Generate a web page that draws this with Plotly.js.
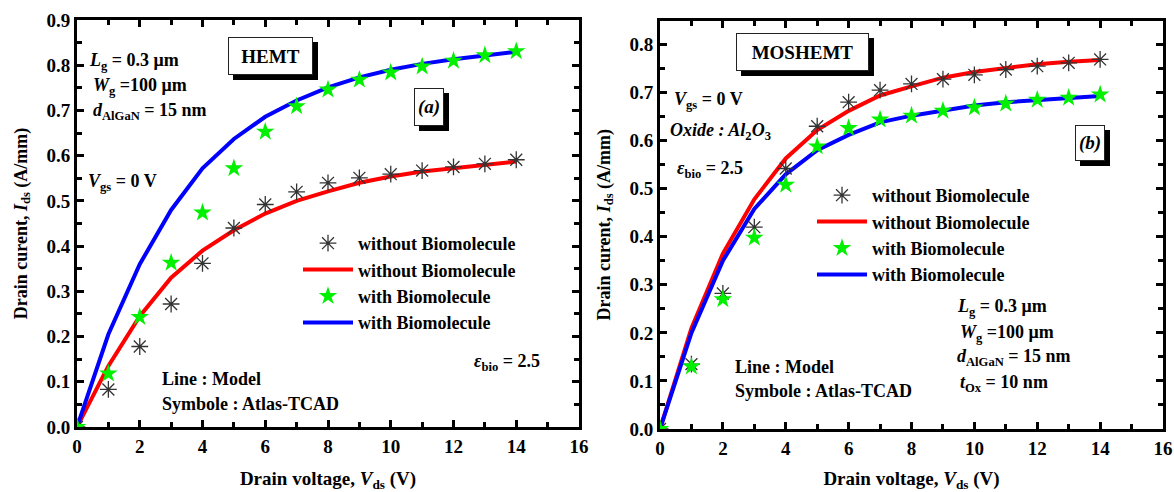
<!DOCTYPE html>
<html>
<head>
<meta charset="utf-8">
<script src="https://cdn.plot.ly/plotly-3.0.1.min.js"></script>
<style>html,body{margin:0;padding:0;background:#fff;}#chart{width:1174px;height:492px;}</style>
</head>
<body>
<div id="chart"></div>
<script>
// ---- data ----
const vdsModel = [0,1,2,3,4,5,6,7,8,9,10,11,12,13,14];
const vdsTCAD  = [0,1,2,3,4,5,6,7,8,9,10,11,12,13,14];

// (a) HEMT
const hemtWithoutTCAD  = [0,0.083,0.178,0.272,0.362,0.440,0.492,0.520,0.540,0.551,0.559,0.567,0.575,0.582,0.591];
const hemtWithoutModel = [0,0.135,0.245,0.330,0.390,0.435,0.472,0.500,0.521,0.540,0.554,0.565,0.572,0.580,0.587];
const hemtWithTCAD     = [0,0.118,0.243,0.363,0.474,0.572,0.653,0.709,0.746,0.768,0.784,0.797,0.810,0.822,0.831];
const hemtWithModel    = [0,0.205,0.360,0.480,0.572,0.637,0.686,0.722,0.751,0.773,0.790,0.803,0.813,0.822,0.830];

// (b) MOSHEMT
const mosWithoutTCAD  = [0,0.135,0.282,0.420,0.542,0.630,0.680,0.705,0.718,0.728,0.737,0.748,0.755,0.762,0.769];
const mosWithoutModel = [0,0.210,0.365,0.478,0.563,0.622,0.662,0.694,0.713,0.731,0.743,0.752,0.759,0.764,0.768];
const mosWithTCAD     = [0,0.130,0.270,0.398,0.508,0.588,0.626,0.644,0.652,0.662,0.669,0.677,0.685,0.689,0.696];
const mosWithModel    = [0,0.200,0.350,0.458,0.530,0.580,0.612,0.638,0.652,0.663,0.673,0.680,0.685,0.689,0.693];

const legendLabels = ['without Biomolecule','without Biomolecule','with Biomolecule','with Biomolecule'];
const xTickVals = [0,2,4,6,8,10,12,14,16];

// ---- styles ----
const serif = 'Liberation Serif, Times New Roman, serif';
const bold = (s, c) => ({family: serif, size: s, color: c || '#000', weight: 'bold'});
const redLine = {color: '#ff0000', width: 4};
const blueLine = {color: '#0000ff', width: 4};
const astMarker = {symbol: 'asterisk-open', size: 14, color: '#333', line: {color: '#333', width: 1.3}};
const starMarker = {symbol: 'star', size: 14, color: '#00f000', line: {width: 0}};

function panel(xa, ya, lg, wT, wM, bT, bM) {
  return [
    {x: vdsModel, y: wM, xaxis: xa, yaxis: ya, mode: 'lines', line: redLine, name: legendLabels[1], legend: lg, legendrank: 2},
    {x: vdsModel, y: bM, xaxis: xa, yaxis: ya, mode: 'lines', line: blueLine, name: legendLabels[3], legend: lg, legendrank: 4},
    {x: vdsTCAD, y: wT, xaxis: xa, yaxis: ya, mode: 'markers', marker: astMarker, name: legendLabels[0], legend: lg, legendrank: 1},
    {x: vdsTCAD, y: bT, xaxis: xa, yaxis: ya, mode: 'markers', marker: starMarker, name: legendLabels[2], legend: lg, legendrank: 3}
  ];
}

const data = [].concat(
  panel('x', 'y', 'legend', hemtWithoutTCAD, hemtWithoutModel, hemtWithTCAD, hemtWithModel),
  panel('x2', 'y2', 'legend2', mosWithoutTCAD, mosWithoutModel, mosWithTCAD, mosWithModel)
);

function xAxis(domain, anchor) {
  return {
    domain: domain, anchor: anchor, range: [0, 16], tickvals: xTickVals,
    showline: true, linewidth: 3, linecolor: '#000', mirror: 'allticks',
    ticks: 'inside', ticklen: 7, tickwidth: 3, tickcolor: '#000',
    minor: {dtick: 1, ticks: 'inside', ticklen: 5, tickwidth: 3, tickcolor: '#000'},
    showgrid: false, zeroline: false, tickfont: bold(19),
    title: {text: 'Drain voltage, <i>V</i><sub>ds</sub> (V)', font: bold(19), standoff: 25}
  };
}
function yAxis(domain, anchor, range) {
  return {
    domain: domain, anchor: anchor, range: range, dtick: 0.1, tickformat: '.1f',
    showline: true, linewidth: 3, linecolor: '#000', mirror: 'allticks',
    ticks: 'inside', ticklen: 7, tickwidth: 3, tickcolor: '#000',
    minor: {dtick: 0.05, ticks: 'inside', ticklen: 5, tickwidth: 3, tickcolor: '#000'},
    showgrid: false, zeroline: false, tickfont: bold(19),
    title: {text: 'Drain curent, <i>I</i><sub>ds</sub> (A/mm)', font: bold(18), standoff: 15}
  };
}

function txt(xref, yref, x, y, text, size, anchor) {
  return {xref: xref, yref: yref, x: x, y: y, text: text, showarrow: false,
          xanchor: anchor || 'left', yanchor: 'middle', font: bold(size || 18)};
}
function box(xref, yref, x, y, text, w, h, italic) {
  const t = italic ? '<i>' + text + '</i>' : text;
  const shadow = {xref: xref, yref: yref, x: x, y: y, text: '&nbsp;', showarrow: false,
    xanchor: 'center', yanchor: 'middle', width: w, height: h, bgcolor: '#000',
    bordercolor: '#000', borderwidth: 1, borderpad: 0, font: bold(18, '#000'), xshift: 5, yshift: -5};
  const main = Object.assign({}, shadow, {text: t, bgcolor: '#fff', bordercolor: '#222', font: bold(19), xshift: 0, yshift: 0});
  return [shadow, main];
}

const annotations = [].concat(
  box('x', 'y', 6.17, 0.82, 'HEMT', 83, 36, false),
  box('x', 'y', 11.22, 0.708, '(a)', 28, 36, true),
  [
    txt('x', 'y', 0.33, 0.808, '<i>L</i><sub>g</sub> = 0.3 μm'),
    txt('x', 'y', 0.45, 0.752, '<i>W</i><sub>g</sub> =100 μm'),
    txt('x', 'y', 0.45, 0.697, '<i>d</i><sub>AlGaN</sub> = 15 nm'),
    txt('x', 'y', 0.30, 0.540, '<i>V</i><sub>gs</sub> = 0 V'),
    txt('x', 'y', 12.6, 0.142, '<i>ε</i><sub>bio</sub> = 2.5'),
    txt('x', 'y', 2.65, 0.106, 'Line : Model'),
    txt('x', 'y', 2.65, 0.051, 'Symbole : Atlas-TCAD')
  ],
  box('x2', 'y2', 4.535, 0.784, 'MOSHEMT', 131, 36, false),
  box('x2', 'y2', 13.69, 0.596, '(b)', 28, 34, true),
  [
    txt('x2', 'y2', 0.38, 0.683, '<i>V</i><sub>gs</sub> = 0 V'),
    txt('x2', 'y2', 0.25, 0.620, '<i>Oxide : Al</i><sub>2</sub><i>O</i><sub>3</sub>'),
    txt('x2', 'y2', 0.48, 0.540, '<i>ε</i><sub>bio</sub> = 2.5'),
    txt('x2', 'y2', 9.39, 0.252, '<i>L</i><sub>g</sub> = 0.3 μm'),
    txt('x2', 'y2', 9.48, 0.198, '<i>W</i><sub>g</sub> =100 μm'),
    txt('x2', 'y2', 9.39, 0.148, '<i>d</i><sub>AlGaN</sub> = 15 nm'),
    txt('x2', 'y2', 9.48, 0.094, '<i>t</i><sub>Ox</sub> = 10 nm'),
    txt('x2', 'y2', 2.32, 0.129, 'Line : Model'),
    txt('x2', 'y2', 2.32, 0.079, 'Symbole : Atlas-TCAD')
  ]
);

const legendBase = {bgcolor: 'rgba(0,0,0,0)', borderwidth: 0, font: bold(18), xanchor: 'left', yanchor: 'top',
                    itemwidth: 50, traceorder: 'normal', tracegroupgap: 0};

const layout = {
  width: 1174, height: 492,
  margin: {l: 0, r: 0, t: 0, b: 0},
  paper_bgcolor: '#fff', plot_bgcolor: '#fff',
  xaxis: xAxis([77/1174, 579/1174], 'y'),
  yaxis: yAxis([1 - 427/492, 1 - 20/492], 'x', [0, 0.9]),
  xaxis2: xAxis([660/1174, 1163/1174], 'y2'),
  yaxis2: yAxis([1 - 429/492, 1 - 20.5/492], 'x2', [0, 0.85]),
  legend: Object.assign({}, legendBase, {x: 298/1174, y: 1 - 225/492}),
  legend2: Object.assign({}, legendBase, {x: 812/1174, y: 1 - 177/492}),
  annotations: annotations,
  showlegend: true
};

Plotly.newPlot('chart', data, layout, {displayModeBar: false, staticPlot: true});
</script>
</body>
</html>
